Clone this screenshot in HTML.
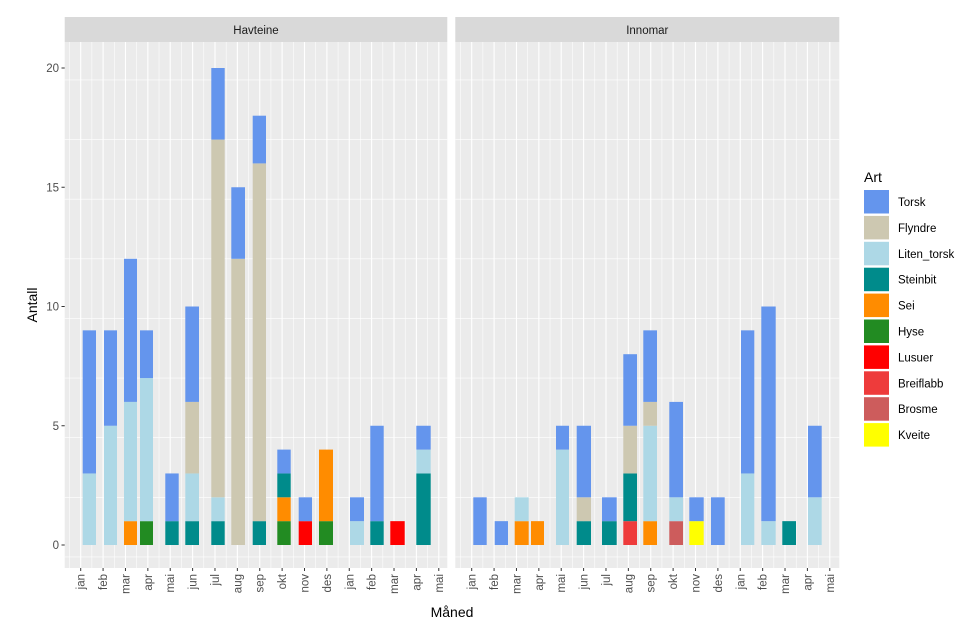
<!DOCTYPE html>
<html><head><meta charset="utf-8"><style>
html,body{margin:0;padding:0;background:#fff}
svg{display:block;font-family:"Liberation Sans",Arial,sans-serif}
</style></head><body>
<svg id="s" width="980" height="628" xmlns="http://www.w3.org/2000/svg"></svg>
<script>
const s=document.getElementById('s');let h='';
const C={T:'#6495ED',F:'#CDC8B1',L:'#ADD8E6',S:'#008B8B',O:'#FF8C00',H:'#228B22',R:'#FF0000',B:'#EE3B3B',M:'#CD5C5C',K:'#FFFF00'};
const Y0=545,U=23.85,PT=42,PB=568;
function y(v){return Y0-v*U;}
const months=['jan','feb','mar','apr','mai','jun','jul','aug','sep','okt','nov','des','jan','feb','mar','apr','mai'];
const panels=[
 {x0:64.7,x1:447.3,t:80.7,title:'Havteine',bars:[
  [82.7,96,[['L',3],['T',6]]],[104,117,[['L',5],['T',4]]],[124,137,[['O',1],['L',5],['T',6]]],
  [140,153,[['H',1],['L',6],['T',2]]],[165.3,178.7,[['S',1],['T',2]]],[185.3,199,[['S',1],['L',2],['F',3],['T',4]]],
  [211.3,224.7,[['S',1],['L',1],['F',15],['T',3]]],[231.3,245,[['F',12],['T',3]]],[252.7,266,[['S',1],['F',15],['T',2]]],
  [277.3,290.7,[['H',1],['O',1],['S',1],['T',1]]],[298.7,312,[['R',1],['T',1]]],[319,333,[['H',1],['O',3]]],
  [350,364,[['L',1],['T',1]]],[370.3,383.7,[['S',1],['T',4]]],[390.3,404.7,[['R',1]]],[416.3,430.7,[['S',3],['L',1],['T',1]]]]},
 {x0:455.3,x1:839.3,t:471.7,title:'Innomar',bars:[
  [473.3,486.7,[['T',2]]],[494.7,508,[['T',1]]],[514.7,528.7,[['O',1],['L',1]]],[531,544,[['O',1]]],
  [556,569,[['L',4],['T',1]]],[576.7,591,[['S',1],['F',1],['T',3]]],[602,616.7,[['S',1],['T',1]]],
  [623.3,637,[['B',1],['S',2],['F',2],['T',3]]],[643.3,657,[['O',1],['L',4],['F',1],['T',3]]],
  [669.3,683,[['M',1],['L',1],['T',4]]],[689.3,703.7,[['K',1],['T',1]]],[711,724.7,[['T',2]]],
  [741,754.3,[['L',3],['T',6]]],[761.3,775.7,[['L',1],['T',9]]],[782.3,796,[['S',1]]],[808,821.7,[['L',2],['T',3]]]]}
];
const SP=22.38;
panels.forEach(p=>{
 h+=`<rect x="${p.x0}" y="17" width="${p.x1-p.x0}" height="25" fill="#D9D9D9"/>`;
 h+=`<text x="${(p.x0+p.x1)/2}" y="34" font-size="11.5" fill="#1A1A1A" text-anchor="middle">${p.title}</text>`;
 h+=`<rect x="${p.x0}" y="${PT}" width="${p.x1-p.x0}" height="${PB-PT}" fill="#EBEBEB"/>`;
 // horizontal grid
 for(let v=-0.5;v<=22;v+=2.5){const yy=y(v);if(yy<PT||yy>PB)continue;const maj=(v%5===0);
  h+=`<line x1="${p.x0}" x2="${p.x1}" y1="${yy}" y2="${yy}" stroke="#fff" stroke-width="${maj?1.1:0.55}"/>`;}
 // vertical grid
 for(let i=-1;i<=34;i++){const xx=p.t+i*SP/2;if(xx<p.x0||xx>p.x1)continue;const maj=(i%2===0);
  h+=`<line x1="${xx}" x2="${xx}" y1="${PT}" y2="${PB}" stroke="#fff" stroke-width="${maj?1.1:0.55}"/>`;}
 p.bars.forEach(b=>{let c=0;b[2].forEach(([k,n])=>{h+=`<rect x="${b[0]}" y="${y(c+n)}" width="${b[1]-b[0]}" height="${n*U}" fill="${C[k]}"/>`;c+=n;});});
 months.forEach((m,i)=>{const xx=p.t+i*SP;
  h+=`<line x1="${xx}" x2="${xx}" y1="${PB}" y2="${PB+3}" stroke="#333" stroke-width="1"/>`;
  h+=`<text transform="translate(${xx+4},574) rotate(-90)" font-size="11.5" fill="#4D4D4D" text-anchor="end">${m}</text>`;});
});
[0,5,10,15,20].forEach(v=>{const yy=y(v);
 h+=`<line x1="61.5" x2="64.7" y1="${yy}" y2="${yy}" stroke="#333"/>`;
 h+=`<text x="59" y="${yy+4}" font-size="11.5" fill="#4D4D4D" text-anchor="end">${v}</text>`;});
h+=`<text transform="translate(37,305) rotate(-90)" font-size="14" fill="#000" text-anchor="middle">Antall</text>`;
h+=`<text x="452" y="617" font-size="14" fill="#000" text-anchor="middle">Måned</text>`;
h+=`<text x="864" y="182" font-size="14" fill="#000">Art</text>`;
[['T','Torsk'],['F','Flyndre'],['L','Liten_torsk'],['S','Steinbit'],['O','Sei'],['H','Hyse'],['R','Lusuer'],['B','Breiflabb'],['M','Brosme'],['K','Kveite']].forEach(([k,n],i)=>{
 const yy=190+i*25.9;
 h+=`<rect x="864" y="${yy}" width="25" height="23.5" fill="${C[k]}"/>`;
 h+=`<text x="898" y="${yy+16}" font-size="11.5" fill="#000">${n}</text>`;});
s.innerHTML=h;
</script>
</body></html>
